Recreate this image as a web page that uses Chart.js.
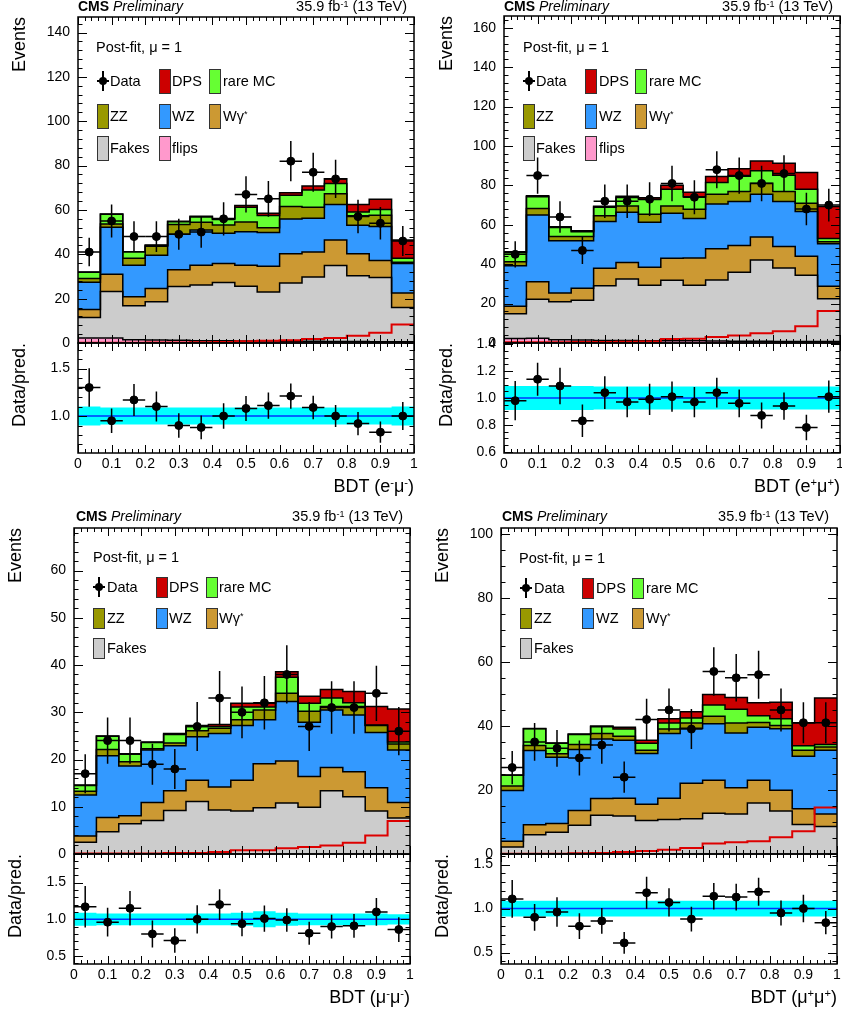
<!DOCTYPE html>
<html>
<head>
<meta charset="utf-8">
<script src="https://cdn.jsdelivr.net/npm/chart.js@4/dist/chart.umd.min.js"></script>
<style>
  body { margin: 0; width: 842px; height: 1011px; overflow: hidden; background: #fff; position: relative;
         font-family: "Liberation Sans", Arial, Helvetica, sans-serif; }
  canvas { position: absolute; }
  .t { position: absolute; white-space: nowrap; color: #000; line-height: 1; }
  .t sup { font-size: 0.62em; position: relative; top: -0.5em; vertical-align: baseline; }
  .box { position: absolute; width: 10px; border: 1px solid #333; }
</style>
</head>
<body>
<script>
// bins (BDT output), 15 bins between 0 and 1
const edges = [0, 0.0667, 0.1333, 0.2, 0.2667, 0.3333, 0.4, 0.4667, 0.5333, 0.6, 0.6667, 0.7333, 0.8, 0.8667, 0.9333, 1];
const xTicks = [0, 0.1, 0.2, 0.3, 0.4, 0.5, 0.6, 0.7, 0.8, 0.9, 1];

// e-mu-
const data1  = [41, 55, 48, 48, 49, 50, 56, 67, 65, 82, 77, 74, 57, 54, 46];
const flips1 = [2.2, 2.3, 1.5, 1.3, 1.2, 1.0, 1.0, 0.9, 0.9, 0.8, 0.8, 0.7, 0.7, 0.6, 0.6];
const fakes1 = [9.3, 20.9, 15.3, 17.3, 24.3, 25.2, 26.3, 24.7, 22.1, 26.2, 29.0, 34.2, 29.6, 28.9, 15.4];
const wg1    = [3.6, 7.8, 4.0, 6.0, 7.5, 8.9, 8.5, 9.5, 11.6, 13.2, 11.2, 11.6, 9.9, 7.7, 6.5];
const wz1    = [12.3, 21.2, 14.3, 15.0, 16.0, 15.9, 13.7, 15.1, 15.2, 15.7, 15.2, 15.9, 12.9, 15.3, 13.3];
const zz1    = [1.7, 1.5, 3.1, 4.0, 4.4, 3.4, 3.7, 4.4, 2.2, 5.6, 5.0, 4.9, 4.3, 5.1, 0.6];
const rare1  = [2.8, 4.4, 2.9, 0.4, 1.3, 2.4, 2.5, 6.6, 5.5, 5.1, 7.8, 4.6, 1.7, 2.6, 1.8];
const dps1   = [0.1, 0.1, 0.1, 0.2, 0.2, 0.3, 0.4, 0.8, 1.0, 1.2, 1.8, 2.2, 3.3, 4.6, 8.3];
const ratio1 = [1.30, 0.95, 1.17, 1.10, 0.90, 0.88, 1.00, 1.08, 1.11, 1.21, 1.09, 1.00, 0.92, 0.83, 1.00];
const band1  = [0.10, 0.09, 0.09, 0.09, 0.09, 0.09, 0.09, 0.09, 0.09, 0.09, 0.09, 0.09, 0.09, 0.09, 0.10];
const yTicks1 = [0, 20, 40, 60, 80, 100, 120, 140];
const rTicks1 = [1.0, 1.5];

// e+mu+
const data2  = [45, 85, 64, 47, 72, 72, 73, 81, 74, 88, 85, 81, 86, 68, 70];
const flips2 = [2.3, 2.4, 1.6, 1.5, 1.3, 1.3, 1.2, 1.2, 1.1, 1.0, 0.9, 0.9, 0.8, 0.8, 0.7];
const fakes2 = [12.5, 19.8, 19.4, 20.2, 27.8, 31.2, 28.1, 30.6, 28.2, 31.0, 35.0, 41.2, 37.3, 33.6, 21.7];
const wg2    = [3.8, 8.9, 4.4, 6.1, 8.8, 8.4, 9.1, 11.2, 13.8, 15.8, 13.6, 11.7, 10.9, 9.6, 6.4];
const wz2    = [20.6, 33.9, 26.5, 24.1, 23.8, 25.5, 22.9, 22.9, 20.1, 22.7, 22.3, 21.7, 22.8, 22.8, 21.6];
const zz2    = [2.1, 3.3, 2.2, 2.2, 2.9, 3.1, 4.1, 3.7, 4.7, 5.0, 5.1, 5.6, 5.1, 4.2, 1.0];
const rare2  = [4.6, 6.0, 4.5, 2.4, 4.3, 4.4, 7.5, 8.5, 6.4, 6.0, 7.7, 6.3, 8.3, 7.0, 1.7];
const dps2   = [0.4, 0.4, 0.4, 0.5, 0.5, 0.6, 0.8, 2.0, 2.2, 3.0, 3.8, 5.0, 6.0, 8.5, 16.2];
const ratio2 = [0.98, 1.14, 1.09, 0.83, 1.04, 0.97, 0.99, 1.01, 0.97, 1.04, 0.96, 0.87, 0.94, 0.78, 1.01];
const band2  = [0.09, 0.09, 0.09, 0.09, 0.085, 0.085, 0.085, 0.085, 0.085, 0.085, 0.085, 0.085, 0.085, 0.085, 0.085];
const yTicks2 = [0, 20, 40, 60, 80, 100, 120, 140, 160];
const rTicks2 = [0.6, 0.8, 1.0, 1.2, 1.4];

// mu-mu-
const data3  = [17, 24, 24, 19, 18, 27, 33, 30, 32, 38, 27, 31, 31, 34, 26];
const fakes3 = [2.5, 4.7, 6.4, 7.1, 9.2, 11.1, 9.3, 9.1, 9.8, 10.8, 9.9, 13.4, 12.1, 9.1, 7.6];
const wg3    = [1.3, 3.0, 1.7, 3.8, 4.2, 4.5, 4.9, 6.5, 9.3, 8.9, 6.5, 4.9, 5.3, 4.9, 3.3];
const wz3    = [8.7, 13.1, 10.5, 11.1, 9.5, 9.2, 11.3, 11.6, 9.3, 12.6, 11.5, 12.2, 12.0, 11.7, 11.1];
const zz3    = [0.8, 1.3, 0.9, 0.3, 0.6, 1.3, 1.1, 1.2, 2.1, 1.7, 2.3, 0.7, 1.8, 1.5, 1.3];
const rare3  = [1.2, 2.8, 1.6, 1.3, 1.8, 0.9, 0.4, 2.7, 0.6, 3.4, 1.7, 1.8, 0.8, 0.1, 0.4];
const dps3   = [0.1, 0.1, 0.1, 0.1, 0.2, 0.2, 0.4, 0.8, 0.8, 1.2, 1.5, 1.8, 2.4, 3.9, 7.0];
const ratio3 = [1.17, 0.96, 1.15, 0.80, 0.71, 1.00, 1.20, 0.94, 1.01, 0.99, 0.81, 0.90, 0.91, 1.10, 0.86];
const band3  = [0.09, 0.08, 0.08, 0.08, 0.08, 0.08, 0.08, 0.09, 0.11, 0.09, 0.08, 0.08, 0.08, 0.08, 0.07];
const yTicks3 = [0, 10, 20, 30, 40, 50, 60];
const rTicks3 = [0.5, 1.0, 1.5];

// mu+mu+
const data4  = [27, 35, 33, 30, 34, 24, 42, 45, 39, 57, 55, 56, 45, 41, 41];
const fakes4 = [2.2, 6.0, 6.8, 9.0, 12.1, 11.9, 10.5, 10.8, 11.0, 12.7, 12.5, 15.9, 13.4, 9.2, 8.6];
const wg4    = [1.8, 3.1, 2.7, 4.6, 5.2, 5.5, 5.0, 6.6, 11.1, 10.3, 8.2, 7.1, 6.5, 4.9, 3.9];
const wz4    = [15.8, 23.2, 20.7, 19.0, 18.6, 18.1, 15.9, 20.2, 17.2, 17.7, 17.1, 16.6, 19.2, 16.4, 19.9];
const zz4    = [1.4, 1.6, 1.1, 1.6, 1.7, 1.3, 1.0, 1.4, 1.6, 2.3, 3.1, 1.5, 1.0, 1.9, 1.0];
const rare4  = [3.4, 5.2, 3.3, 3.1, 2.1, 2.2, 2.2, 1.9, 1.6, 3.5, 4.3, 2.1, 2.1, 1.4, 0.8];
const dps4   = [0.1, 0.1, 0.1, 0.2, 0.3, 0.6, 0.9, 1.3, 1.9, 3.3, 3.7, 4.0, 5.2, 7.1, 14.5];
const ratio4 = [1.11, 0.90, 0.96, 0.80, 0.86, 0.61, 1.18, 1.07, 0.88, 1.14, 1.13, 1.19, 0.95, 1.00, 0.84];
const band4  = [0.09, 0.09, 0.09, 0.09, 0.09, 0.09, 0.09, 0.09, 0.09, 0.09, 0.09, 0.09, 0.09, 0.09, 0.09];
const yTicks4 = [0, 20, 40, 60, 80, 100];
const rTicks4 = [0.5, 1.0, 1.5];

const colors = {
  flips: '#ff99cc', fakes: '#cccccc', wg: '#cc9933', wz: '#3399ff',
  zz: '#999900', rare: '#66ff33', dps: '#cc0000', band: '#00ffff', unity: '#0033ff'
};
const FONT = '"Liberation Sans", Arial, Helvetica, sans-serif';

const panels = [
  { fl: 78, fr: 414, mt: 17, mb: 343, rb: 453, ymax: 147, yTicks: yTicks1, yMinor: 4,
    rmin: 0.61, rmax: 1.77, rTicks: rTicks1, rMinor: 0.1,
    data: data1, ratio: ratio1, band: band1, dps: dps1,
    stack: [['flips', flips1], ['fakes', fakes1], ['wg', wg1], ['wz', wz1], ['zz', zz1], ['rare', rare1], ['dps', dps1]],
    xTitle: 'BDT (e<sup>-</sup>μ<sup>-</sup>)',
    cmsX: 78, cmsY: 6, lumiR: 407, titleCx: 18.5, postX: 96, postY: 47,
    legCols: [97, 159, 209], legText: [110, 172, 223], legRows: [81, 116, 148], boxH: 25 },
  { fl: 504, fr: 840, mt: 16, mb: 343, rb: 453, ymax: 166, yTicks: yTicks2, yMinor: 4,
    rmin: 0.59, rmax: 1.41, rTicks: rTicks2, rMinor: 0.05,
    data: data2, ratio: ratio2, band: band2, dps: dps2,
    stack: [['flips', flips2], ['fakes', fakes2], ['wg', wg2], ['wz', wz2], ['zz', zz2], ['rare', rare2], ['dps', dps2]],
    xTitle: 'BDT (e<sup>+</sup>μ<sup>+</sup>)',
    cmsX: 504, cmsY: 6, lumiR: 833, titleCx: 445.5, postX: 523, postY: 47,
    legCols: [523, 585, 635], legText: [536, 599, 649], legRows: [81, 116, 148], boxH: 25 },
  { fl: 74, fr: 410, mt: 528, mb: 854, rb: 964, ymax: 69, yTicks: yTicks3, yMinor: 2,
    rmin: 0.39, rmax: 1.89, rTicks: rTicks3, rMinor: 0.1,
    data: data3, ratio: ratio3, band: band3, dps: dps3,
    stack: [['fakes', fakes3], ['wg', wg3], ['wz', wz3], ['zz', zz3], ['rare', rare3], ['dps', dps3]],
    xTitle: 'BDT (μ<sup>-</sup>μ<sup>-</sup>)',
    cmsX: 76, cmsY: 516, lumiR: 403, titleCx: 15, postX: 93, postY: 557,
    legCols: [93, 156, 206], legText: [107, 169, 219], legRows: [587, 618, 648], boxH: 21 },
  { fl: 501, fr: 837, mt: 528, mb: 854, rb: 964, ymax: 101.8, yTicks: yTicks4, yMinor: 5,
    rmin: 0.37, rmax: 1.62, rTicks: rTicks4, rMinor: 0.1,
    data: data4, ratio: ratio4, band: band4, dps: dps4,
    stack: [['fakes', fakes4], ['wg', wg4], ['wz', wz4], ['zz', zz4], ['rare', rare4], ['dps', dps4]],
    xTitle: 'BDT (μ<sup>+</sup>μ<sup>+</sup>)',
    cmsX: 502, cmsY: 516, lumiR: 829, titleCx: 441.5, postX: 519, postY: 558,
    legCols: [520, 582, 632], legText: [534, 596, 646], legRows: [588, 618, 648], boxH: 21 }
];

const legendNames = { dps: 'DPS', rare: 'rare MC', zz: 'ZZ', wz: 'WZ', wg: 'Wγ<sup>*</sup>', fakes: 'Fakes', flips: 'flips' };
const legendOrder = ['data', 'dps', 'rare', 'zz', 'wz', 'wg', 'fakes', 'flips'];

// histogram as step points: value of bin i from edges[i] to edges[i+1]
function steps(vals) {
  const pts = vals.map((v, i) => ({ x: edges[i], y: v }));
  pts.push({ x: edges[edges.length - 1], y: vals[vals.length - 1] });
  return pts;
}
const centers = edges.slice(0, -1).map((e, i) => (e + edges[i + 1]) / 2);
const halfW = edges.slice(0, -1).map((e, i) => (edges[i + 1] - e) / 2);

// error bars for datasets that carry errY/errX
const errorBars = {
  id: 'errorBars',
  afterDatasetsDraw(chart) {
    const { ctx, chartArea: a } = chart;
    const xs = chart.scales.x, ys = chart.scales.y;
    ctx.save();
    ctx.beginPath();
    ctx.rect(a.left, a.top, a.right - a.left, a.bottom - a.top);
    ctx.clip();
    ctx.strokeStyle = '#000';
    ctx.lineWidth = 1.5;
    chart.data.datasets.forEach(ds => {
      if (!ds.errY) return;
      ds.data.forEach((p, i) => {
        const px = xs.getPixelForValue(p.x), py = ys.getPixelForValue(p.y);
        ctx.beginPath();
        ctx.moveTo(px, ys.getPixelForValue(p.y - ds.errY[i]));
        ctx.lineTo(px, ys.getPixelForValue(p.y + ds.errY[i]));
        ctx.moveTo(xs.getPixelForValue(p.x - ds.errX[i]), py);
        ctx.lineTo(xs.getPixelForValue(p.x + ds.errX[i]), py);
        ctx.stroke();
      });
    });
    ctx.restore();
  }
};

// ROOT-like frame with inward ticks on all four sides
const frame = {
  id: 'frame',
  afterDraw(chart, args, o) {
    const { ctx, chartArea: a } = chart;
    const xs = chart.scales.x, ys = chart.scales.y;
    ctx.save();
    ctx.strokeStyle = '#000';
    ctx.lineWidth = 1;
    ctx.beginPath();
    for (let k = 0; k <= 50; k++) {
      const px = Math.round(xs.getPixelForValue(k * 0.02)) + 0.5;
      const L = k % 5 === 0 ? o.xLen : o.xLen / 2;
      ctx.moveTo(px, a.bottom); ctx.lineTo(px, a.bottom - L);
      ctx.moveTo(px, a.top); ctx.lineTo(px, a.top + L);
    }
    const k0 = Math.ceil(ys.min / o.yMinor - 1e-6), k1 = Math.floor(ys.max / o.yMinor + 1e-6);
    for (let k = k0; k <= k1; k++) {
      const v = k * o.yMinor;
      const major = o.yMajor.some(m => Math.abs(m - v) < 1e-6);
      const py = Math.round(ys.getPixelForValue(v)) + 0.5;
      const L = major ? o.yLen : o.yLen / 2;
      ctx.moveTo(a.left, py); ctx.lineTo(a.left + L, py);
      ctx.moveTo(a.right, py); ctx.lineTo(a.right - L, py);
    }
    ctx.stroke();
    ctx.lineWidth = 1.5;
    ctx.strokeRect(a.left, a.top, a.right - a.left, a.bottom - a.top);
    ctx.restore();
  }
};

const YW = 60, PAD = 24, XH = 30;

function addCanvas(left, top, w, h) {
  const c = document.createElement('canvas');
  c.width = w; c.height = h;
  c.style.left = left + 'px'; c.style.top = top + 'px';
  c.style.width = w + 'px'; c.style.height = h + 'px';
  document.body.appendChild(c);
  return c;
}

function addText(html, left, top, size, extra) {
  const d = document.createElement('div');
  d.className = 't';
  d.innerHTML = html;
  d.style.left = left + 'px';
  d.style.top = top + 'px';
  d.style.fontSize = size + 'px';
  if (extra) Object.assign(d.style, extra);
  document.body.appendChild(d);
  return d;
}

function yScale(min, max, ticks, fmt, padding) {
  return {
    min, max,
    grid: { display: false, drawTicks: false, tickLength: 0 },
    border: { display: false },
    ticks: { color: '#000', font: { family: FONT, size: 14 }, padding, callback: fmt },
    afterBuildTicks: s => { s.ticks = ticks.map(v => ({ value: v })); },
    afterFit: s => { s.width = YW; }
  };
}

function makePanel(p) {
  const fw = p.fr - p.fl;
  const left = p.fl - YW;

  // main pad
  const mainCanvas = addCanvas(left, p.mt - PAD, YW + fw + PAD, p.mb - p.mt + 2 * PAD);
  let cum = new Array(p.data.length).fill(0);
  const stackSets = p.stack.map(([key, vals], i) => {
    cum = cum.map((c, j) => c + vals[j]);
    return {
      data: steps(cum), stepped: true, fill: i === 0 ? 'origin' : '-1',
      backgroundColor: colors[key], borderColor: '#000', borderWidth: 1.5,
      pointRadius: 0
    };
  });
  new Chart(mainCanvas, {
    type: 'line',
    data: {
      datasets: [
        { data: p.data.map((v, i) => ({ x: centers[i], y: v })), showLine: false,
          pointRadius: 4, pointBackgroundColor: '#000', pointBorderColor: '#000',
          errY: p.data.map(v => Math.sqrt(v)), errX: halfW },
        { data: steps(p.dps), stepped: true, fill: false, borderColor: '#dd0000', borderWidth: 2, pointRadius: 0 },
        ...stackSets
      ]
    },
    options: {
      responsive: false, animation: false, events: [],
      layout: { padding: { left: 0, right: PAD, top: PAD, bottom: PAD } },
      plugins: { legend: { display: false }, tooltip: { enabled: false },
        filler: { propagate: false, drawTime: 'beforeDatasetsDraw' },
        frame: { xLen: 8, yLen: 9, yMinor: p.yMinor, yMajor: p.yTicks } },
      scales: {
        x: { type: 'linear', min: 0, max: 1, display: false },
        y: yScale(0, p.ymax, p.yTicks, v => String(v), 8)
      }
    },
    plugins: [errorBars, frame]
  });

  // ratio pad
  const ratioCanvas = addCanvas(left, p.mb - PAD, YW + fw + PAD, p.rb - p.mb + PAD + XH + 4);
  new Chart(ratioCanvas, {
    type: 'line',
    data: {
      datasets: [
        { data: p.ratio.map((v, i) => ({ x: centers[i], y: v })), showLine: false,
          pointRadius: 4, pointBackgroundColor: '#000', pointBorderColor: '#000',
          errY: p.ratio.map((r, i) => r / Math.sqrt(p.data[i])), errX: halfW },
        { data: [{ x: 0, y: 1 }, { x: 1, y: 1 }], borderColor: colors.unity, borderWidth: 1.5, pointRadius: 0, fill: false },
        { data: steps(p.band.map(b => 1 - b)), stepped: true, fill: false, borderWidth: 0, pointRadius: 0 },
        { data: steps(p.band.map(b => 1 + b)), stepped: true, fill: '-1', borderWidth: 0, pointRadius: 0,
          backgroundColor: colors.band }
      ]
    },
    options: {
      responsive: false, animation: false, events: [],
      layout: { padding: { left: 0, right: PAD, top: PAD, bottom: 4 } },
      plugins: { legend: { display: false }, tooltip: { enabled: false },
        filler: { propagate: false, drawTime: 'beforeDatasetsDraw' },
        frame: { xLen: 8, yLen: 9, yMinor: p.rMinor, yMajor: p.rTicks } },
      scales: {
        x: {
          type: 'linear', min: 0, max: 1,
          grid: { display: false, drawTicks: false, tickLength: 0 },
          border: { display: false },
          ticks: { color: '#000', font: { family: FONT, size: 14 }, padding: 3, autoSkip: false, maxRotation: 0,
                   callback: v => (v === 0 ? '0' : v === 1 ? '1' : v.toFixed(1)) },
          afterBuildTicks: s => { s.ticks = xTicks.map(v => ({ value: v })); },
          afterFit: s => { s.height = XH; }
        },
        y: yScale(p.rmin, p.rmax, p.rTicks, v => v.toFixed(1), 8)
      }
    },
    plugins: [errorBars, frame]
  });

  // texts
  addText('<b>CMS</b> <i>Preliminary</i>', p.cmsX, p.cmsY, 14, { transform: 'translateY(-50%)' });
  addText('35.9 fb<sup>-1</sup> (13 TeV)', p.lumiR, p.cmsY, 14.5, { transform: 'translate(-100%, -50%)' });
  addText('Events', p.titleCx, p.mt, 18, { transformOrigin: '0 0', transform: 'rotate(-90deg) translate(-100%, -50%)' });
  addText('Data/pred.', p.titleCx, p.mb, 18, { transformOrigin: '0 0', transform: 'rotate(-90deg) translate(-100%, -50%)' });
  addText(p.xTitle, p.fr, p.rb + 33, 18, { transform: 'translate(-100%, -50%)' });
  addText('Post-fit, μ = 1', p.postX, p.postY, 14.5, { transform: 'translateY(-50%)' });

  // legend
  const keys = p.stack.map(s => s[0]);
  legendOrder.filter(k => k === 'data' || keys.includes(k)).forEach((k, idx) => {
    const col = idx % 3, row = Math.floor(idx / 3);
    const bx = p.legCols[col], cy = p.legRows[row];
    if (k === 'data') {
      const cx = bx + 6;
      const v = document.createElement('div');
      Object.assign(v.style, { position: 'absolute', left: (cx - 0.75) + 'px', top: (cy - 10) + 'px', width: '1.5px', height: '20px', background: '#000' });
      const h = document.createElement('div');
      Object.assign(h.style, { position: 'absolute', left: (cx - 6) + 'px', top: (cy - 0.75) + 'px', width: '12px', height: '1.5px', background: '#000' });
      const dot = document.createElement('div');
      Object.assign(dot.style, { position: 'absolute', left: (cx - 4) + 'px', top: (cy - 4) + 'px', width: '8px', height: '8px', borderRadius: '50%', background: '#000' });
      document.body.append(v, h, dot);
      addText('Data', p.legText[col], cy, 14.5, { transform: 'translateY(-50%)' });
    } else {
      const b = document.createElement('div');
      b.className = 'box';
      Object.assign(b.style, { left: bx + 'px', top: (cy - p.boxH / 2) + 'px', height: (p.boxH - 2) + 'px', background: colors[k] });
      document.body.appendChild(b);
      addText(legendNames[k], p.legText[col], cy, 14.5, { transform: 'translateY(-50%)' });
    }
  });
}

panels.forEach(makePanel);
</script>
</body>
</html>
